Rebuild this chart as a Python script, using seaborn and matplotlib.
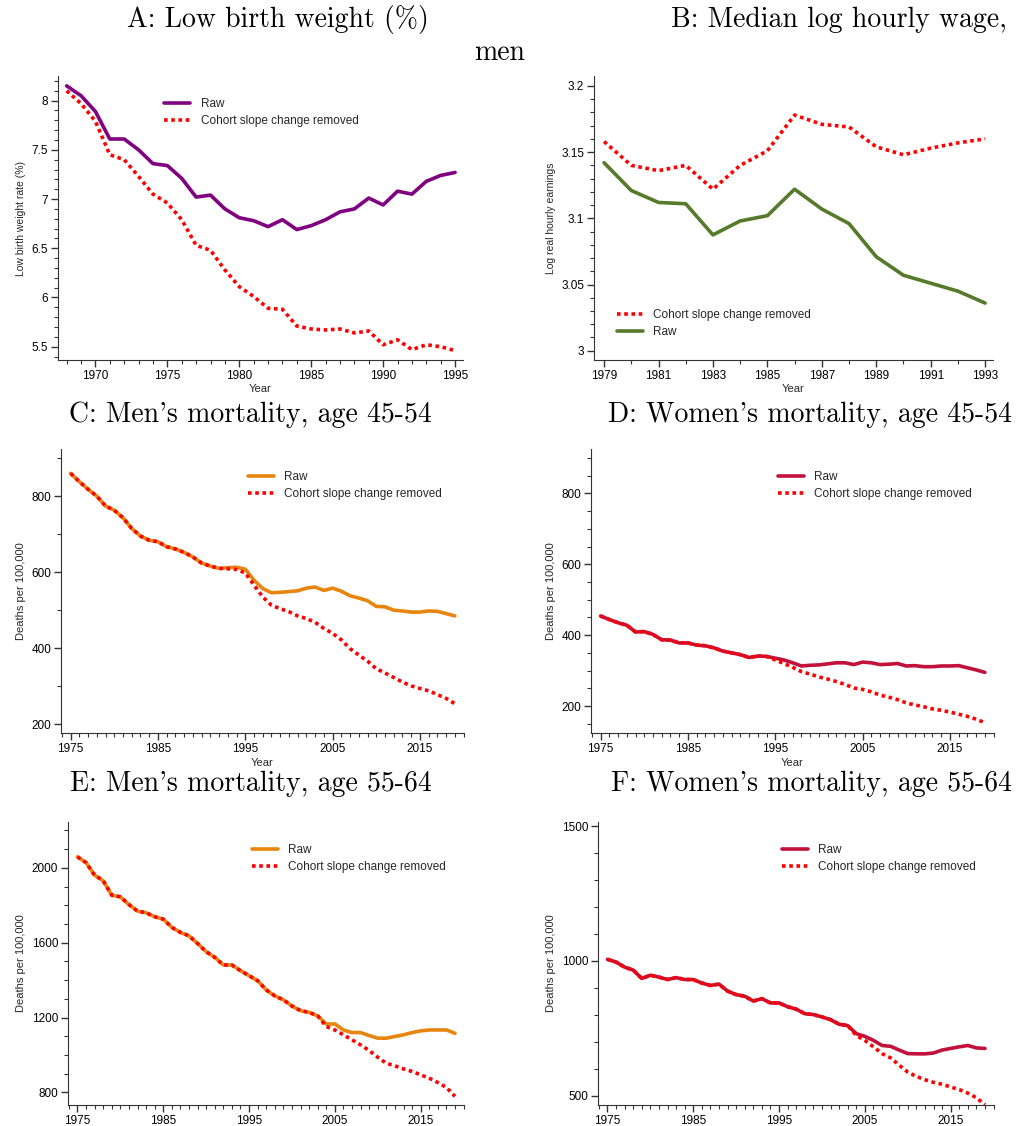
import numpy as np
import pandas as pd
import matplotlib
matplotlib.use("Agg")
import matplotlib.pyplot as plt
from matplotlib.ticker import MultipleLocator
import seaborn as sns

# Panel A: low birth weight (%)
years_a = list(range(1968, 1996))
lbw_raw = [8.15, 8.05, 7.89, 7.61, 7.61, 7.50, 7.36, 7.34, 7.21, 7.02, 7.04, 6.90, 6.81, 6.78,
           6.72, 6.79, 6.69, 6.73, 6.79, 6.87, 6.90, 7.01, 6.94, 7.08, 7.05, 7.18, 7.24, 7.27]
lbw_adj = [8.10, 7.97, 7.79, 7.45, 7.40, 7.23, 7.05, 6.96, 6.79, 6.53, 6.48, 6.28, 6.11, 6.01,
           5.89, 5.88, 5.71, 5.68, 5.67, 5.68, 5.64, 5.66, 5.52, 5.57, 5.47, 5.52, 5.50, 5.46]

# Panel B: median log hourly wage, men
years_b = list(range(1979, 1994))
wage_raw = [3.142, 3.121, 3.112, 3.111, 3.0875, 3.098, 3.102, 3.122, 3.107, 3.096, 3.071,
            3.057, 3.051, 3.045, 3.036]
wage_adj = [3.158, 3.140, 3.136, 3.140, 3.122, 3.140, 3.151, 3.178, 3.171, 3.169, 3.154,
            3.148, 3.153, 3.157, 3.160]

years_m = list(range(1975, 2020))
# Panel C: men 45-54
men45_raw = [860, 838, 818, 800, 774, 763, 743, 715, 695, 684, 680, 667, 661, 652, 640, 624,
             616, 610, 612, 613, 608, 579, 557, 546, 547, 549, 551, 558, 561, 552, 558, 550,
             538, 532, 525, 510, 509, 500, 498, 495, 495, 498, 497, 491, 485]
men45_adj = [860, 838, 818, 800, 774, 763, 743, 715, 695, 684, 680, 667, 661, 652, 640, 624,
             616, 610, 609, 607, 598, 566, 535, 513, 504, 496, 485, 478, 468, 452, 439, 422,
             399, 382, 366, 346, 335, 323, 311, 301, 294, 288, 278, 268, 254]
# Panel D: women 45-54
wom45_raw = [454, 444, 435, 428, 409, 410, 402, 387, 386, 378, 378, 372, 370, 364, 355, 350,
             345, 337, 341, 340, 335, 330, 322, 313, 315, 316, 319, 322, 322, 317, 324, 322,
             317, 318, 320, 313, 314, 311, 311, 313, 313, 314, 308, 302, 295]
wom45_adj = [454, 444, 435, 428, 409, 410, 402, 387, 386, 378, 378, 372, 370, 364, 355, 350,
             345, 337, 341, 340, 330, 320, 309, 297, 290, 282, 276, 269, 261, 251, 247, 240,
             231, 225, 218, 209, 203, 198, 192, 188, 183, 177, 171, 163, 153]
# Panel E: men 55-64
men55_raw = [2059, 2028, 1961, 1931, 1854, 1845, 1804, 1769, 1760, 1739, 1726, 1682, 1655,
             1637, 1596, 1552, 1522, 1481, 1481, 1451, 1424, 1397, 1348, 1316, 1295, 1262,
             1237, 1228, 1209, 1166, 1166, 1134, 1120, 1120, 1104, 1090, 1090, 1099, 1108,
             1120, 1129, 1134, 1134, 1134, 1116]
men55_adj = [2059, 2028, 1961, 1931, 1854, 1845, 1804, 1769, 1760, 1739, 1726, 1682, 1655,
             1637, 1596, 1552, 1522, 1481, 1481, 1451, 1424, 1397, 1348, 1316, 1295, 1262,
             1237, 1228, 1209, 1152, 1134, 1108, 1081, 1054, 1024, 988, 956, 942, 926, 912,
             894, 876, 853, 827, 779]
# Panel F: women 55-64
wom55_raw = [1006, 996, 977, 966, 935, 947, 940, 931, 938, 931, 931, 918, 909, 914, 888, 875,
             869, 851, 860, 844, 844, 830, 821, 804, 801, 792, 782, 765, 760, 730, 720, 705,
             686, 683, 669, 656, 655, 655, 658, 669, 675, 681, 686, 677, 675]
wom55_adj = [1006, 996, 977, 966, 935, 947, 940, 931, 938, 931, 931, 918, 909, 914, 888, 875,
             869, 851, 860, 844, 844, 830, 821, 804, 801, 792, 782, 765, 760, 723, 705, 681,
             656, 640, 613, 587, 571, 559, 549, 542, 532, 522, 509, 492, 466]

RAW = "Raw"
ADJ = "Cohort slope change removed"

sns.set_style("ticks")
plt.rcParams["font.family"] = ["Liberation Sans", "DejaVu Sans"]
plt.rcParams["axes.edgecolor"] = "#333333"
plt.rcParams["xtick.color"] = "#333333"
plt.rcParams["ytick.color"] = "#333333"
plt.rcParams["xtick.labelcolor"] = "black"
plt.rcParams["ytick.labelcolor"] = "black"

W, H = 1016, 1126
fig = plt.figure(figsize=(W / 100, H / 100), dpi=100)


def make_ax(left, right, top, bottom):
    return fig.add_axes([left / W, 1 - bottom / H, (right - left) / W, (bottom - top) / H])


def draw(ax, years, raw, adj, color, raw_first=True):
    dotted = dict(color="#ff0000", lw=2.6, linestyle=(0, (1, 1)), dash_capstyle="butt")
    if raw_first:
        sns.lineplot(x=years, y=raw, ax=ax, color=color, lw=2.6, label=RAW)
        sns.lineplot(x=years, y=adj, ax=ax, label=ADJ, **dotted)
    else:
        sns.lineplot(x=years, y=adj, ax=ax, label=ADJ, **dotted)
        sns.lineplot(x=years, y=raw, ax=ax, color=color, lw=2.6, label=RAW)
    sns.despine(ax=ax)
    ax.tick_params(which="major", length=5, width=1, labelsize=8.5, pad=2)
    ax.tick_params(which="minor", length=3, width=0.8)
    ax.xaxis.set_minor_locator(MultipleLocator(1))


def legend(ax, loc, anchor):
    ax.legend(loc=loc, bbox_to_anchor=anchor, frameon=False, fontsize=8.5,
              handlelength=2.2, handletextpad=0.9, labelspacing=0.45, borderaxespad=0)


# A
ax = make_ax(58, 463, 76, 360)
draw(ax, years_a, lbw_raw, lbw_adj, "#800080")
ax.set_xlim(1967.4, 1995.55)
ax.set_ylim(5.365, 8.25)
ax.xaxis.set_major_locator(MultipleLocator(5))
ax.yaxis.set_major_locator(MultipleLocator(0.5))
ax.yaxis.set_minor_locator(MultipleLocator(0.1))
ax.set_yticks([5.5, 6, 6.5, 7, 7.5, 8])
ax.set_yticklabels(["5.5", "6", "6.5", "7", "7.5", "8"])
ax.set_xlabel("Year", fontsize=8, labelpad=2)
ax.set_ylabel("Low birth weight rate (%)", fontsize=7.5, labelpad=4)
legend(ax, "upper left", (0.25, 0.94))

# B
ax = make_ax(594, 993, 76, 360)
draw(ax, years_b, wage_raw, wage_adj, "#567a2c", raw_first=False)
ax.set_xlim(1978.63, 1993.29)
ax.set_ylim(2.993, 3.2075)
ax.set_xticks(list(range(1979, 1994, 2)))
ax.set_yticks([3, 3.05, 3.1, 3.15, 3.2])
ax.set_yticklabels(["3", "3.05", "3.1", "3.15", "3.2"])
ax.yaxis.set_minor_locator(MultipleLocator(0.01))
ax.set_xlabel("Year", fontsize=8, labelpad=2)
ax.set_ylabel("Log real hourly earnings", fontsize=7.5, labelpad=4)
legend(ax, "lower left", (0.045, 0.06))

mort = [
    (61, 464, 449, 733, men45_raw, men45_adj, "#e8850e", (177, 924), 100, [200, 400, 600, 800], True),
    (591, 994, 449, 733, wom45_raw, wom45_adj, "#c2113b", (124, 925), 50, [200, 400, 600, 800], True),
    (68, 464, 822, 1105, men55_raw, men55_adj, "#e8850e", (733, 2245), 100, [800, 1200, 1600, 2000], False),
    (598, 994, 822, 1105, wom55_raw, wom55_adj, "#c2113b", (465, 1516), 100, [500, 1000, 1500], False),
]
for left, right, top, bottom, raw, adj, col, ylim, minor, yt, xlab in mort:
    ax = make_ax(left, right, top, bottom)
    draw(ax, years_m, raw, adj, col)
    ax.set_xlim(1973.9, 2020.05)
    ax.set_ylim(*ylim)
    ax.set_xticks(list(range(1975, 2020, 10)))
    ax.set_yticks(yt)
    ax.yaxis.set_minor_locator(MultipleLocator(minor))
    ax.set_ylabel("Deaths per 100,000", fontsize=8, labelpad=4)
    if xlab:
        ax.set_xlabel("Year", fontsize=8, labelpad=2)
    legend(ax, "upper left", (0.452, 0.94))

# Titles
tkw = dict(fontsize=20, family="cmr10", color="black", va="baseline")
fig.text(278 / W, 1 - 27 / H, "A: Low birth weight (%)", ha="center", **tkw)
fig.text(1007 / W, 1 - 27 / H, "B: Median log hourly wage,", ha="right", **tkw)
fig.text(500 / W, 1 - 60 / H, "men", ha="center", **tkw)
fig.text(432 / W, 1 - 422 / H, "C: Men's mortality, age 45-54", ha="right", **tkw)
fig.text(1012 / W, 1 - 422 / H, "D: Women's mortality, age 45-54", ha="right", **tkw)
fig.text(432 / W, 1 - 791 / H, "E: Men's mortality, age 55-64", ha="right", **tkw)
fig.text(1012 / W, 1 - 791 / H, "F: Women's mortality, age 55-64", ha="right", **tkw)

fig.savefig("out.png", dpi=100, facecolor="white")
